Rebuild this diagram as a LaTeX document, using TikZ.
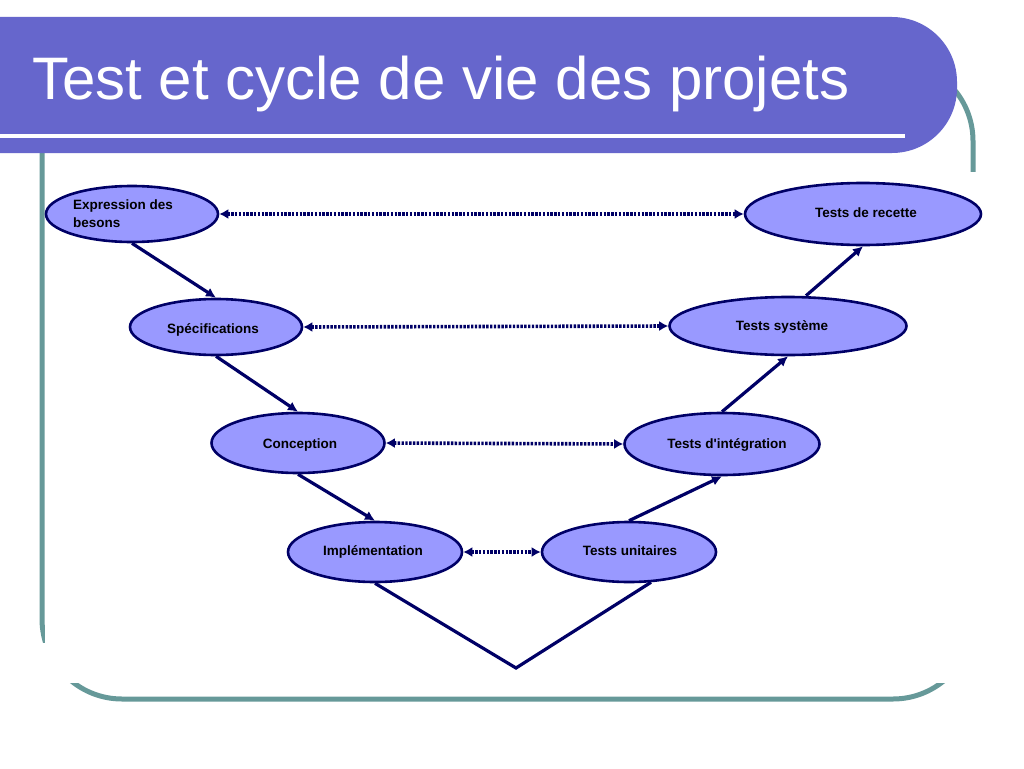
\documentclass[tikz,border=0pt]{standalone}
\usepackage{fontspec}
\setmainfont{Liberation Sans}
\usetikzlibrary{shapes.geometric,arrows.meta}
\definecolor{navy}{RGB}{0,0,102}
\definecolor{lav}{RGB}{153,153,255}
\definecolor{barc}{RGB}{102,102,204}
\definecolor{frameteal}{RGB}{102,153,153}
\begin{document}
\begin{tikzpicture}[x=1pt,y=-1pt,
  phase/.style={ellipse, draw=navy, line width=2.6pt, fill=lav, inner sep=0pt},
  lbl/.style={font=\fontsize{13.5}{18}\selectfont\bfseries, anchor=base, inner sep=0pt, text=black},
  flow/.style={draw=navy, line width=3.2pt, -{Latex[length=10pt,width=10pt]}},
  link/.style={draw=navy, line width=3.6pt, dash pattern=on 2.4pt off 1.4pt,
    {Latex[length=9pt,width=10pt]}-{Latex[length=9pt,width=10pt]}},
  plain/.style={draw=navy, line width=3.2pt, line join=miter}
]
\useasboundingbox (0,0) rectangle (1024,768);
\clip (0,0) rectangle (1024,768);
\fill[white] (0,0) rectangle (1024,768);
% slide frame
\draw[frameteal, line width=5pt, rounded corners=80pt] (42,61) rectangle (973,699);
% diagram picture background hides parts of the frame
\fill[white] (45,172) rectangle (990,683);
\fill[white] (36,643) rectangle (80,683);
% title bar
\fill[barc, rounded corners=65pt] (-200,17) rectangle (957,153);
\fill[white] (0,134) rectangle (905,138);
\node[anchor=base west, inner sep=0pt, text=white, font=\fontsize{60}{72}\selectfont] (title) at (32,99) {Test et cycle de vie des projets};

% phases
\node[phase, minimum width=172pt, minimum height=56pt] (e1) at (132,214) {};
\node[phase, minimum width=172pt, minimum height=56pt] (e2) at (216,327) {};
\node[phase, minimum width=173pt, minimum height=60pt] (e3) at (298,443) {};
\node[phase, minimum width=174pt, minimum height=60pt] (e4) at (375,552) {};
\node[phase, minimum width=174pt, minimum height=60pt] (e5) at (629,552) {};
\node[phase, minimum width=195pt, minimum height=62pt] (e6) at (722,444) {};
\node[phase, minimum width=237pt, minimum height=58pt] (e7) at (788,326) {};
\node[phase, minimum width=236pt, minimum height=62pt] (e8) at (863,214) {};

\node[lbl, anchor=base west, align=left] (t1) at (73,227) {Expression des\\besons};
\node[lbl] (t2) at (213,333) {Spécifications};
\node[lbl] (t3) at (300,448) {Conception};
\node[lbl] (t4) at (373,555) {Implémentation};
\node[lbl] (t5) at (630,555) {Tests unitaires};
\node[lbl] (t6) at (727,448) {Tests d\textquotesingle intégration};
\node[lbl] (t7) at (782,330) {Tests système};
\node[lbl] (t8) at (866,217) {Tests de recette};

% descending branch
\draw[flow] (e1.south) -- (e2.north);
\draw[flow] (e2.south) -- (e3.north);
\draw[flow] (e3.south) -- (e4.north);
\coordinate (v) at (516,668);
\draw[plain] (e4.south) -- (v) -- ([xshift=22pt,yshift=1pt]e5.south);
% ascending branch
\draw[flow] (e5.north) -- (e6.south);
\draw[flow] (e6.north) -- (e7.south);
\draw[flow] ([xshift=18pt]e7.north) -- (e8.south);

% correspondences
\draw[link] (e1.east) -- (e8.west);
\draw[link] (e2.east) -- (e7.west);
\draw[link] (e3.east) -- (e6.west);
\draw[link] (e4.east) -- (e5.west);
\end{tikzpicture}
\end{document}
